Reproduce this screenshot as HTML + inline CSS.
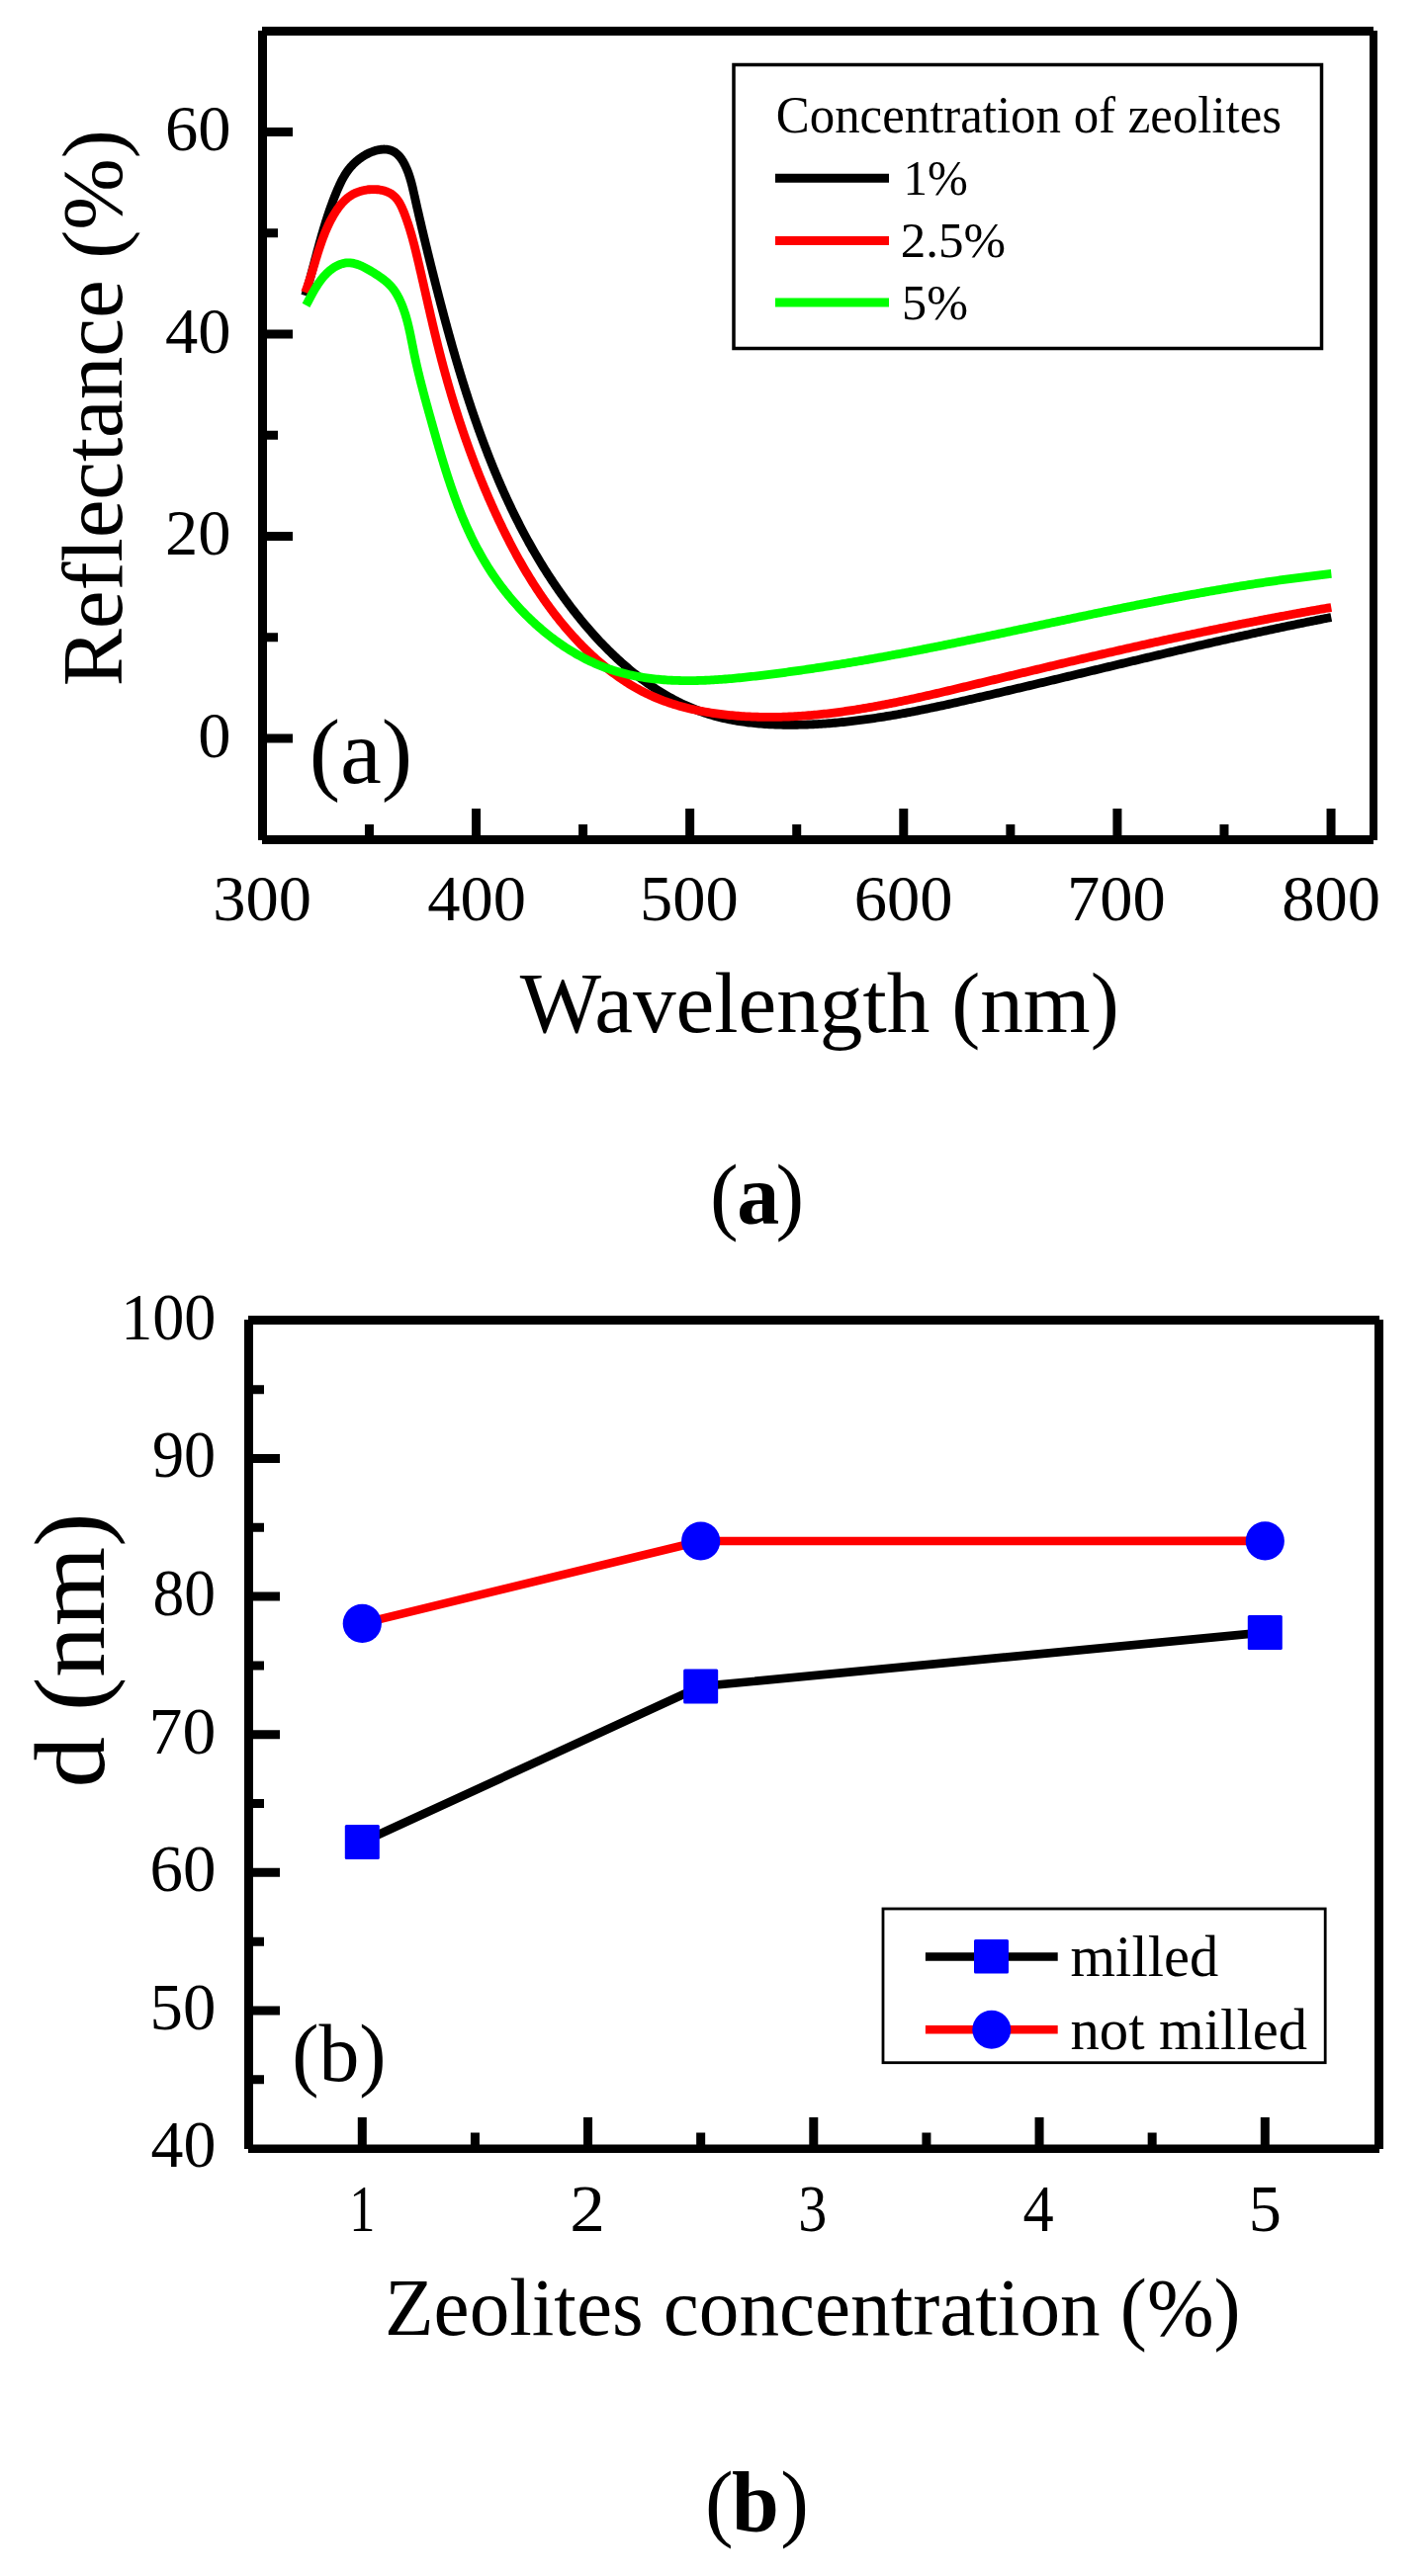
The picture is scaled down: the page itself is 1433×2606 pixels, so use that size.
<!DOCTYPE html>
<html><head><meta charset="utf-8"><style>
html,body{margin:0;padding:0;background:#fff;}
svg{display:block;}
svg text{font-family:"Liberation Serif",serif;fill:#000;}
</style></head><body>
<svg width="1433" height="2606" viewBox="0 0 1433 2606">
<rect width="1433" height="2606" fill="#fff"/>
<path d="M265,27H1389V36H265Z M261,31H270V850H261Z M1385,31H1393V850H1385Z M265,845H1389V854H265Z" fill="#000"/>
<path d="M265.5,747.00H296 M265.5,542.50H296 M265.5,338.00H296 M265.5,133.50H296 M265.5,644.75H281 M265.5,440.25H281 M265.5,235.75H281 M481.53,849.5V818 M697.66,849.5V818 M913.79,849.5V818 M1129.92,849.5V818 M1346.05,849.5V818 M373.46,849.5V834 M589.60,849.5V834 M805.73,849.5V834 M1021.86,849.5V834 M1237.99,849.5V834" stroke="#000" stroke-width="9" fill="none"/>
<text x="200.28" y="765.80" font-size="66.5">0</text>
<text x="167.03" y="561.30" font-size="66.5">20</text>
<text x="167.03" y="356.80" font-size="66.5">40</text>
<text x="167.03" y="152.30" font-size="66.5">60</text>
<text x="215.20" y="930.70" font-size="66.5">300</text>
<text x="432.27" y="930.70" font-size="66.5">400</text>
<text x="647.12" y="930.70" font-size="66.5">500</text>
<text x="863.75" y="930.70" font-size="66.5">600</text>
<text x="1079.12" y="930.70" font-size="66.5">700</text>
<text x="1296.18" y="930.70" font-size="66.5">800</text>
<text x="525.82" y="1043.70" font-size="87" textLength="605.98" lengthAdjust="spacingAndGlyphs">Wavelength (nm)</text>
<text transform="translate(122.80,694.21) rotate(-90)" x="0" y="0" font-size="86.5" textLength="563.03" lengthAdjust="spacingAndGlyphs">Reflectance (%)</text>
<path d="M308.72,298.99 L309.28,297.09 L309.83,295.19 L310.37,293.28 L310.91,291.37 L311.45,289.46 L311.98,287.54 L312.51,285.62 L313.04,283.70 L313.56,281.78 L314.08,279.85 L314.60,277.92 L315.12,275.99 L315.63,274.06 L316.14,272.13 L316.66,270.20 L317.17,268.26 L317.68,266.33 L318.20,264.39 L318.71,262.46 L319.22,260.52 L319.74,258.58 L320.26,256.65 L320.77,254.71 L321.30,252.78 L321.82,250.84 L322.35,248.91 L322.88,246.97 L323.41,245.04 L323.95,243.11 L324.49,241.18 L325.04,239.25 L325.59,237.32 L326.15,235.40 L326.71,233.48 L327.28,231.56 L327.85,229.64 L328.44,227.72 L329.03,225.81 L329.62,223.90 L330.23,222.00 L330.84,220.10 L331.46,218.20 L332.09,216.30 L332.73,214.41 L333.38,212.52 L334.04,210.64 L334.71,208.76 L335.39,206.89 L336.08,205.02 L336.78,203.16 L337.49,201.30 L338.21,199.44 L338.95,197.60 L339.70,195.75 L340.46,193.92 L341.24,192.09 L342.03,190.26 L342.84,188.44 L343.66,186.64 L344.51,184.84 L345.39,183.07 L346.31,181.31 L347.26,179.57 L348.25,177.85 L349.29,176.16 L350.39,174.50 L351.53,172.87 L352.74,171.27 L354.00,169.71 L355.32,168.19 L356.70,166.71 L358.13,165.27 L359.62,163.89 L361.15,162.55 L362.74,161.26 L364.38,160.04 L366.07,158.87 L367.80,157.76 L369.58,156.71 L371.41,155.74 L373.28,154.83 L375.19,154.00 L377.13,153.24 L379.10,152.58 L381.09,152.02 L383.08,151.58 L385.06,151.25 L387.02,151.06 L388.96,151.02 L390.85,151.14 L392.70,151.41 L394.49,151.86 L396.21,152.47 L397.87,153.24 L399.44,154.16 L400.93,155.24 L402.33,156.47 L403.65,157.83 L404.88,159.31 L406.04,160.89 L407.12,162.55 L408.14,164.28 L409.09,166.06 L409.99,167.87 L410.83,169.71 L411.63,171.57 L412.37,173.44 L413.07,175.33 L413.73,177.24 L414.36,179.16 L414.95,181.09 L415.51,183.04 L416.04,184.99 L416.55,186.96 L417.04,188.92 L417.52,190.90 L417.98,192.88 L418.43,194.86 L418.87,196.84 L419.31,198.82 L419.76,200.79 L420.20,202.77 L420.64,204.74 L421.09,206.71 L421.53,208.68 L421.98,210.65 L422.43,212.61 L422.88,214.58 L423.33,216.54 L423.78,218.50 L424.23,220.45 L424.68,222.41 L425.14,224.36 L425.59,226.32 L426.05,228.27 L426.51,230.21 L426.97,232.16 L427.43,234.11 L427.89,236.05 L428.35,238.00 L428.81,239.94 L429.28,241.88 L429.74,243.82 L430.21,245.76 L430.68,247.69 L431.15,249.63 L431.62,251.56 L432.09,253.50 L432.56,255.43 L433.03,257.37 L433.51,259.30 L433.98,261.23 L434.46,263.16 L434.94,265.09 L435.42,267.02 L435.90,268.95 L436.38,270.88 L436.86,272.81 L437.35,274.74 L437.83,276.66 L438.32,278.59 L438.80,280.52 L439.29,282.45 L439.78,284.38 L440.27,286.31 L440.76,288.23 L441.25,290.16 L441.75,292.09 L442.24,294.02 L442.74,295.95 L443.24,297.88 L443.74,299.80 L444.24,301.73 L444.74,303.66 L445.24,305.59 L445.75,307.52 L446.25,309.45 L446.76,311.38 L447.27,313.31 L447.78,315.24 L448.29,317.16 L448.81,319.09 L449.32,321.02 L449.84,322.95 L450.36,324.88 L450.88,326.80 L451.40,328.73 L451.92,330.66 L452.45,332.59 L452.98,334.51 L453.51,336.44 L454.04,338.36 L454.58,340.29 L455.11,342.22 L455.65,344.14 L456.19,346.06 L456.73,347.99 L457.28,349.91 L457.82,351.83 L458.37,353.76 L458.92,355.68 L459.48,357.60 L460.03,359.52 L460.59,361.44 L461.15,363.36 L461.72,365.28 L462.28,367.20 L462.85,369.12 L463.42,371.04 L463.99,372.95 L464.57,374.87 L465.15,376.78 L465.73,378.70 L466.31,380.61 L466.90,382.52 L467.49,384.44 L468.08,386.35 L468.67,388.26 L469.27,390.17 L469.87,392.08 L470.47,393.98 L471.08,395.89 L471.69,397.80 L472.30,399.70 L472.91,401.61 L473.53,403.51 L474.15,405.41 L474.78,407.31 L475.41,409.21 L476.04,411.11 L476.67,413.01 L477.31,414.91 L477.95,416.80 L478.59,418.70 L479.24,420.59 L479.89,422.48 L480.54,424.37 L481.20,426.26 L481.86,428.15 L482.53,430.04 L483.19,431.92 L483.87,433.81 L484.54,435.69 L485.22,437.57 L485.90,439.45 L486.59,441.33 L487.28,443.21 L487.97,445.08 L488.67,446.96 L489.37,448.83 L490.08,450.70 L490.78,452.57 L491.50,454.44 L492.21,456.31 L492.94,458.18 L493.66,460.04 L494.39,461.90 L495.12,463.76 L495.86,465.62 L496.60,467.48 L497.35,469.33 L498.10,471.19 L498.85,473.04 L499.61,474.89 L500.37,476.74 L501.14,478.58 L501.91,480.43 L502.69,482.27 L503.47,484.11 L504.25,485.95 L505.04,487.79 L505.84,489.62 L506.64,491.45 L507.44,493.28 L508.25,495.11 L509.06,496.93 L509.88,498.76 L510.70,500.58 L511.53,502.40 L512.36,504.21 L513.20,506.03 L514.04,507.84 L514.89,509.65 L515.74,511.45 L516.59,513.25 L517.46,515.06 L518.32,516.85 L519.19,518.65 L520.07,520.44 L520.95,522.23 L521.84,524.02 L522.73,525.81 L523.63,527.59 L524.54,529.37 L525.45,531.15 L526.36,532.92 L527.28,534.69 L528.20,536.46 L529.13,538.22 L530.07,539.99 L531.01,541.74 L531.96,543.50 L532.91,545.25 L533.87,547.00 L534.84,548.75 L535.81,550.49 L536.78,552.23 L537.76,553.97 L538.75,555.70 L539.74,557.43 L540.74,559.16 L541.75,560.88 L542.76,562.60 L543.78,564.32 L544.80,566.03 L545.83,567.74 L546.87,569.45 L547.91,571.15 L548.95,572.85 L550.01,574.54 L551.07,576.23 L552.14,577.92 L553.21,579.61 L554.29,581.29 L555.37,582.96 L556.46,584.64 L557.56,586.30 L558.67,587.97 L559.78,589.63 L560.90,591.29 L562.02,592.94 L563.15,594.59 L564.29,596.23 L565.44,597.87 L566.59,599.51 L567.74,601.14 L568.91,602.77 L570.08,604.40 L571.26,606.02 L572.45,607.63 L573.64,609.24 L574.84,610.85 L576.04,612.45 L577.26,614.05 L578.48,615.64 L579.70,617.23 L580.94,618.82 L582.18,620.40 L583.43,621.97 L584.69,623.54 L585.95,625.11 L587.22,626.67 L588.50,628.23 L589.78,629.78 L591.08,631.32 L592.38,632.86 L593.68,634.40 L595.00,635.93 L596.32,637.45 L597.65,638.97 L598.98,640.48 L600.33,641.98 L601.68,643.48 L603.04,644.97 L604.40,646.46 L605.78,647.93 L607.16,649.40 L608.54,650.86 L609.94,652.32 L611.34,653.77 L612.75,655.20 L614.17,656.64 L615.59,658.06 L617.03,659.47 L618.47,660.88 L619.91,662.27 L621.37,663.66 L622.83,665.04 L624.30,666.41 L625.77,667.77 L627.26,669.12 L628.75,670.46 L630.25,671.79 L631.75,673.11 L633.27,674.42 L634.79,675.71 L636.31,677.00 L637.85,678.28 L639.39,679.55 L640.94,680.80 L642.50,682.05 L644.07,683.28 L645.64,684.50 L647.22,685.71 L648.81,686.91 L650.40,688.09 L652.01,689.26 L653.62,690.43 L655.24,691.57 L656.86,692.71 L658.49,693.83 L660.13,694.94 L661.78,696.03 L663.44,697.12 L665.10,698.18 L666.77,699.24 L668.45,700.28 L670.13,701.30 L671.83,702.32 L673.53,703.31 L675.24,704.30 L676.95,705.26 L678.68,706.22 L680.41,707.16 L682.14,708.08 L683.89,708.99 L685.64,709.88 L687.40,710.75 L689.17,711.61 L690.95,712.45 L692.73,713.28 L694.53,714.09 L696.32,714.89 L698.13,715.66 L699.94,716.42 L701.77,717.17 L703.60,717.89 L705.43,718.60 L707.28,719.29 L709.13,719.96 L710.99,720.62 L712.86,721.25 L714.73,721.87 L716.62,722.47 L718.51,723.05 L720.41,723.61 L722.31,724.16 L724.22,724.68 L726.14,725.19 L728.07,725.68 L730.00,726.15 L731.94,726.60 L733.89,727.04 L735.84,727.46 L737.80,727.86 L739.76,728.25 L741.73,728.62 L743.71,728.97 L745.69,729.31 L747.67,729.63 L749.66,729.93 L751.65,730.23 L753.65,730.50 L755.65,730.77 L757.65,731.01 L759.66,731.25 L761.67,731.47 L763.69,731.67 L765.70,731.86 L767.72,732.04 L769.75,732.21 L771.77,732.36 L773.80,732.50 L775.83,732.63 L777.86,732.75 L779.89,732.85 L781.92,732.95 L783.95,733.03 L785.99,733.10 L788.02,733.16 L790.06,733.21 L792.09,733.25 L794.13,733.28 L796.16,733.29 L798.20,733.30 L800.23,733.30 L802.26,733.29 L804.29,733.27 L806.32,733.25 L808.35,733.21 L810.38,733.17 L812.40,733.12 L814.42,733.05 L816.45,732.99 L818.46,732.91 L820.48,732.83 L822.50,732.74 L824.51,732.64 L826.52,732.53 L828.53,732.42 L830.54,732.30 L832.55,732.17 L834.55,732.03 L836.56,731.89 L838.56,731.74 L840.56,731.58 L842.56,731.42 L844.55,731.25 L846.55,731.07 L848.54,730.89 L850.54,730.70 L852.53,730.50 L854.52,730.30 L856.50,730.09 L858.49,729.87 L860.48,729.65 L862.46,729.43 L864.44,729.19 L866.42,728.95 L868.40,728.71 L870.38,728.46 L872.36,728.20 L874.34,727.94 L876.31,727.67 L878.29,727.40 L880.26,727.12 L882.23,726.84 L884.20,726.55 L886.17,726.25 L888.14,725.96 L890.11,725.65 L892.07,725.34 L894.04,725.03 L896.00,724.71 L897.96,724.39 L899.93,724.07 L901.89,723.73 L903.85,723.40 L905.81,723.06 L907.77,722.72 L909.72,722.37 L911.68,722.02 L913.64,721.66 L915.59,721.30 L917.55,720.94 L919.50,720.57 L921.45,720.20 L923.41,719.82 L925.36,719.45 L927.31,719.07 L929.26,718.68 L931.21,718.29 L933.16,717.90 L935.11,717.51 L937.06,717.11 L939.01,716.71 L940.95,716.31 L942.90,715.91 L944.85,715.50 L946.79,715.09 L948.74,714.68 L950.68,714.26 L952.63,713.85 L954.57,713.43 L956.52,713.01 L958.46,712.58 L960.41,712.16 L962.35,711.73 L964.29,711.30 L966.24,710.87 L968.18,710.44 L970.12,710.01 L972.07,709.57 L974.01,709.13 L975.95,708.70 L977.89,708.26 L979.84,707.82 L981.78,707.37 L983.72,706.93 L985.66,706.49 L987.60,706.04 L989.55,705.60 L991.49,705.15 L993.43,704.71 L995.38,704.26 L997.32,703.81 L999.26,703.37 L1001.20,702.92 L1003.15,702.47 L1005.09,702.02 L1007.03,701.57 L1008.98,701.12 L1010.92,700.67 L1012.86,700.21 L1014.81,699.76 L1016.75,699.31 L1018.69,698.85 L1020.64,698.40 L1022.58,697.95 L1024.53,697.49 L1026.47,697.04 L1028.41,696.58 L1030.36,696.12 L1032.30,695.67 L1034.25,695.21 L1036.19,694.75 L1038.14,694.29 L1040.08,693.84 L1042.03,693.38 L1043.97,692.92 L1045.92,692.46 L1047.86,692.00 L1049.81,691.54 L1051.75,691.08 L1053.70,690.62 L1055.64,690.16 L1057.59,689.70 L1059.53,689.23 L1061.48,688.77 L1063.42,688.31 L1065.37,687.85 L1067.32,687.39 L1069.26,686.92 L1071.21,686.46 L1073.15,686.00 L1075.10,685.53 L1077.05,685.07 L1078.99,684.61 L1080.94,684.14 L1082.88,683.68 L1084.83,683.22 L1086.78,682.75 L1088.72,682.29 L1090.67,681.82 L1092.62,681.36 L1094.56,680.89 L1096.51,680.43 L1098.46,679.96 L1100.41,679.50 L1102.35,679.04 L1104.30,678.57 L1106.25,678.11 L1108.19,677.64 L1110.14,677.18 L1112.09,676.71 L1114.04,676.25 L1115.98,675.78 L1117.93,675.32 L1119.88,674.86 L1121.83,674.39 L1123.78,673.93 L1125.72,673.46 L1127.67,673.00 L1129.62,672.54 L1131.57,672.07 L1133.52,671.61 L1135.47,671.15 L1137.41,670.68 L1139.36,670.22 L1141.31,669.76 L1143.26,669.29 L1145.21,668.83 L1147.16,668.37 L1149.11,667.91 L1151.06,667.45 L1153.01,666.99 L1154.95,666.52 L1156.90,666.06 L1158.85,665.60 L1160.80,665.14 L1162.75,664.68 L1164.70,664.22 L1166.65,663.77 L1168.60,663.31 L1170.55,662.85 L1172.50,662.39 L1174.45,661.93 L1176.40,661.48 L1178.35,661.02 L1180.30,660.56 L1182.25,660.11 L1184.20,659.65 L1186.15,659.20 L1188.10,658.74 L1190.05,658.29 L1192.00,657.83 L1193.95,657.38 L1195.90,656.93 L1197.85,656.48 L1199.80,656.03 L1201.76,655.57 L1203.71,655.12 L1205.66,654.67 L1207.61,654.23 L1209.56,653.78 L1211.51,653.33 L1213.46,652.88 L1215.41,652.43 L1217.36,651.99 L1219.32,651.54 L1221.27,651.10 L1223.22,650.65 L1225.17,650.21 L1227.12,649.77 L1229.07,649.33 L1231.03,648.88 L1232.98,648.44 L1234.93,648.00 L1236.88,647.56 L1238.83,647.13 L1240.79,646.69 L1242.74,646.25 L1244.69,645.82 L1246.64,645.38 L1248.60,644.95 L1250.55,644.51 L1252.50,644.08 L1254.45,643.65 L1256.41,643.22 L1258.36,642.79 L1260.31,642.36 L1262.26,641.93 L1264.22,641.50 L1266.17,641.07 L1268.12,640.65 L1270.08,640.22 L1272.03,639.80 L1273.98,639.38 L1275.94,638.96 L1277.89,638.53 L1279.84,638.11 L1281.80,637.70 L1283.75,637.28 L1285.70,636.86 L1287.66,636.45 L1289.61,636.03 L1291.57,635.62 L1293.52,635.20 L1295.47,634.79 L1297.43,634.38 L1299.38,633.97 L1301.34,633.56 L1303.29,633.16 L1305.24,632.75 L1307.20,632.35 L1309.15,631.94 L1311.11,631.54 L1313.06,631.14 L1315.02,630.74 L1316.97,630.34 L1318.92,629.94 L1320.88,629.55 L1322.83,629.15 L1324.79,628.76 L1326.74,628.36 L1328.70,627.97 L1330.65,627.58 L1332.61,627.19 L1334.56,626.81 L1336.52,626.42 L1338.47,626.03 L1340.43,625.65 L1342.38,625.27 L1344.34,624.89 L1346.30,624.51" stroke="#000" stroke-width="8.8" fill="none" stroke-linejoin="round"/>
<path d="M308.61,295.87 L309.30,294.05 L309.97,292.22 L310.63,290.38 L311.27,288.53 L311.90,286.67 L312.53,284.79 L313.14,282.91 L313.75,281.02 L314.35,279.12 L314.94,277.22 L315.53,275.31 L316.11,273.39 L316.69,271.47 L317.27,269.55 L317.85,267.62 L318.44,265.69 L319.02,263.76 L319.60,261.83 L320.20,259.90 L320.79,257.97 L321.39,256.04 L322.00,254.11 L322.62,252.19 L323.25,250.28 L323.89,248.36 L324.54,246.46 L325.20,244.55 L325.88,242.66 L326.58,240.78 L327.29,238.90 L328.02,237.03 L328.76,235.18 L329.53,233.33 L330.32,231.50 L331.13,229.68 L331.96,227.87 L332.82,226.08 L333.70,224.30 L334.61,222.54 L335.55,220.80 L336.51,219.07 L337.51,217.36 L338.54,215.67 L339.60,214.00 L340.69,212.36 L341.82,210.74 L342.99,209.15 L344.20,207.59 L345.46,206.08 L346.77,204.62 L348.13,203.21 L349.54,201.86 L351.02,200.58 L352.56,199.37 L354.16,198.23 L355.84,197.18 L357.58,196.21 L359.40,195.33 L361.28,194.54 L363.21,193.84 L365.19,193.24 L367.21,192.73 L369.25,192.31 L371.32,191.98 L373.40,191.74 L375.48,191.60 L377.56,191.56 L379.62,191.60 L381.66,191.74 L383.68,191.98 L385.65,192.32 L387.58,192.76 L389.46,193.31 L391.28,193.96 L393.02,194.73 L394.69,195.61 L396.28,196.60 L397.78,197.72 L399.17,198.96 L400.46,200.32 L401.67,201.78 L402.79,203.34 L403.83,204.98 L404.80,206.70 L405.72,208.47 L406.58,210.29 L407.39,212.16 L408.17,214.04 L408.92,215.95 L409.65,217.85 L410.36,219.76 L411.05,221.67 L411.72,223.59 L412.37,225.50 L413.01,227.42 L413.63,229.34 L414.23,231.27 L414.82,233.19 L415.40,235.12 L415.96,237.05 L416.51,238.98 L417.05,240.91 L417.58,242.84 L418.10,244.78 L418.61,246.71 L419.11,248.65 L419.60,250.59 L420.08,252.53 L420.56,254.47 L421.03,256.41 L421.50,258.35 L421.96,260.29 L422.42,262.24 L422.88,264.18 L423.33,266.12 L423.79,268.07 L424.24,270.02 L424.69,271.96 L425.14,273.91 L425.59,275.85 L426.04,277.80 L426.48,279.75 L426.93,281.69 L427.38,283.64 L427.82,285.59 L428.27,287.54 L428.71,289.48 L429.15,291.43 L429.60,293.38 L430.04,295.33 L430.48,297.28 L430.93,299.22 L431.37,301.17 L431.82,303.12 L432.26,305.07 L432.71,307.02 L433.15,308.96 L433.60,310.91 L434.05,312.86 L434.50,314.81 L434.95,316.75 L435.40,318.70 L435.85,320.64 L436.30,322.59 L436.76,324.54 L437.21,326.48 L437.67,328.43 L438.13,330.37 L438.59,332.31 L439.06,334.26 L439.52,336.20 L439.99,338.14 L440.46,340.09 L440.93,342.03 L441.41,343.97 L441.89,345.91 L442.37,347.85 L442.85,349.79 L443.34,351.72 L443.83,353.66 L444.32,355.60 L444.81,357.53 L445.31,359.47 L445.81,361.40 L446.32,363.33 L446.83,365.27 L447.34,367.20 L447.85,369.13 L448.37,371.06 L448.89,372.99 L449.42,374.92 L449.95,376.84 L450.48,378.77 L451.01,380.69 L451.55,382.62 L452.10,384.54 L452.64,386.46 L453.19,388.38 L453.74,390.30 L454.30,392.22 L454.86,394.14 L455.42,396.06 L455.99,397.97 L456.56,399.89 L457.13,401.80 L457.71,403.71 L458.29,405.63 L458.88,407.54 L459.47,409.45 L460.06,411.35 L460.65,413.26 L461.25,415.17 L461.86,417.07 L462.47,418.97 L463.08,420.88 L463.69,422.78 L464.31,424.68 L464.93,426.57 L465.56,428.47 L466.19,430.37 L466.82,432.26 L467.46,434.15 L468.10,436.05 L468.75,437.94 L469.40,439.82 L470.05,441.71 L470.71,443.60 L471.37,445.48 L472.04,447.37 L472.71,449.25 L473.38,451.13 L474.06,453.01 L474.74,454.89 L475.43,456.76 L476.12,458.64 L476.81,460.51 L477.51,462.38 L478.21,464.25 L478.92,466.12 L479.63,467.99 L480.35,469.85 L481.07,471.72 L481.79,473.58 L482.52,475.44 L483.25,477.30 L483.99,479.16 L484.73,481.01 L485.47,482.87 L486.22,484.72 L486.98,486.57 L487.73,488.42 L488.50,490.27 L489.26,492.11 L490.04,493.96 L490.81,495.80 L491.59,497.64 L492.38,499.48 L493.17,501.32 L493.96,503.15 L494.76,504.98 L495.56,506.82 L496.37,508.65 L497.18,510.47 L498.00,512.30 L498.82,514.12 L499.65,515.95 L500.48,517.77 L501.31,519.58 L502.15,521.40 L503.00,523.22 L503.85,525.03 L504.70,526.84 L505.56,528.65 L506.43,530.45 L507.30,532.26 L508.17,534.06 L509.05,535.86 L509.93,537.66 L510.82,539.45 L511.72,541.24 L512.62,543.03 L513.52,544.82 L514.43,546.60 L515.35,548.39 L516.27,550.16 L517.20,551.94 L518.13,553.71 L519.07,555.48 L520.01,557.25 L520.96,559.01 L521.92,560.77 L522.88,562.52 L523.85,564.27 L524.82,566.02 L525.80,567.77 L526.79,569.51 L527.78,571.24 L528.78,572.97 L529.79,574.70 L530.80,576.43 L531.82,578.15 L532.85,579.86 L533.88,581.58 L534.92,583.28 L535.96,584.98 L537.02,586.68 L538.07,588.38 L539.14,590.06 L540.22,591.75 L541.30,593.43 L542.38,595.10 L543.48,596.77 L544.58,598.43 L545.69,600.09 L546.81,601.74 L547.93,603.39 L549.07,605.03 L550.21,606.67 L551.35,608.30 L552.51,609.93 L553.67,611.55 L554.84,613.16 L556.02,614.77 L557.21,616.37 L558.41,617.96 L559.61,619.55 L560.82,621.14 L562.04,622.71 L563.27,624.28 L564.51,625.85 L565.75,627.41 L567.00,628.96 L568.27,630.50 L569.54,632.04 L570.82,633.57 L572.10,635.09 L573.40,636.61 L574.71,638.12 L576.02,639.62 L577.35,641.12 L578.68,642.60 L580.02,644.08 L581.37,645.56 L582.73,647.02 L584.10,648.48 L585.48,649.93 L586.87,651.37 L588.27,652.80 L589.68,654.23 L591.09,655.65 L592.52,657.06 L593.96,658.46 L595.40,659.85 L596.86,661.23 L598.32,662.60 L599.79,663.96 L601.28,665.31 L602.77,666.65 L604.27,667.98 L605.79,669.30 L607.31,670.61 L608.84,671.91 L610.38,673.19 L611.93,674.46 L613.48,675.72 L615.05,676.97 L616.63,678.20 L618.22,679.42 L619.81,680.63 L621.42,681.82 L623.03,683.00 L624.66,684.17 L626.29,685.32 L627.93,686.46 L629.58,687.58 L631.24,688.68 L632.91,689.77 L634.59,690.84 L636.28,691.90 L637.98,692.94 L639.69,693.97 L641.40,694.98 L643.13,695.97 L644.86,696.94 L646.61,697.89 L648.36,698.83 L650.12,699.75 L651.89,700.65 L653.67,701.53 L655.46,702.39 L657.26,703.24 L659.07,704.06 L660.88,704.86 L662.71,705.65 L664.54,706.41 L666.38,707.16 L668.23,707.89 L670.09,708.60 L671.95,709.29 L673.83,709.96 L675.71,710.62 L677.59,711.26 L679.48,711.88 L681.38,712.49 L683.29,713.07 L685.20,713.65 L687.12,714.20 L689.04,714.74 L690.97,715.26 L692.90,715.77 L694.84,716.26 L696.78,716.74 L698.73,717.20 L700.68,717.64 L702.64,718.07 L704.60,718.49 L706.56,718.89 L708.53,719.28 L710.50,719.65 L712.47,720.01 L714.45,720.36 L716.43,720.69 L718.41,721.01 L720.39,721.32 L722.38,721.61 L724.37,721.90 L726.35,722.17 L728.34,722.42 L730.33,722.67 L732.33,722.91 L734.32,723.13 L736.31,723.34 L738.30,723.54 L740.30,723.73 L742.29,723.91 L744.28,724.08 L746.27,724.24 L748.26,724.39 L750.25,724.53 L752.24,724.65 L754.24,724.77 L756.23,724.88 L758.22,724.98 L760.21,725.07 L762.19,725.15 L764.18,725.21 L766.17,725.27 L768.16,725.32 L770.15,725.37 L772.14,725.40 L774.12,725.42 L776.11,725.43 L778.10,725.44 L780.09,725.43 L782.07,725.42 L784.06,725.40 L786.04,725.37 L788.03,725.33 L790.01,725.28 L792.00,725.22 L793.98,725.16 L795.97,725.08 L797.95,725.00 L799.94,724.91 L801.92,724.82 L803.90,724.71 L805.88,724.60 L807.87,724.48 L809.85,724.35 L811.83,724.21 L813.81,724.07 L815.79,723.92 L817.77,723.76 L819.75,723.60 L821.73,723.42 L823.71,723.24 L825.69,723.06 L827.67,722.86 L829.65,722.66 L831.63,722.46 L833.61,722.24 L835.59,722.02 L837.56,721.80 L839.54,721.56 L841.52,721.32 L843.50,721.08 L845.47,720.83 L847.45,720.57 L849.42,720.30 L851.40,720.03 L853.38,719.76 L855.35,719.48 L857.32,719.19 L859.30,718.90 L861.27,718.60 L863.25,718.30 L865.22,717.99 L867.19,717.68 L869.17,717.36 L871.14,717.03 L873.11,716.71 L875.08,716.37 L877.05,716.03 L879.02,715.69 L881.00,715.34 L882.97,714.99 L884.94,714.63 L886.91,714.27 L888.88,713.91 L890.84,713.54 L892.81,713.16 L894.78,712.79 L896.75,712.41 L898.72,712.02 L900.69,711.63 L902.65,711.24 L904.62,710.84 L906.59,710.44 L908.55,710.04 L910.52,709.63 L912.49,709.22 L914.45,708.81 L916.42,708.39 L918.38,707.98 L920.35,707.55 L922.31,707.13 L924.27,706.70 L926.24,706.27 L928.20,705.84 L930.16,705.40 L932.13,704.97 L934.09,704.53 L936.05,704.08 L938.01,703.64 L939.97,703.19 L941.93,702.74 L943.89,702.29 L945.85,701.84 L947.81,701.39 L949.77,700.93 L951.73,700.48 L953.69,700.02 L955.65,699.56 L957.61,699.10 L959.57,698.63 L961.52,698.17 L963.48,697.71 L965.44,697.24 L967.40,696.77 L969.35,696.31 L971.31,695.84 L973.26,695.37 L975.22,694.90 L977.17,694.43 L979.13,693.96 L981.08,693.49 L983.04,693.02 L984.99,692.55 L986.95,692.08 L988.90,691.61 L990.85,691.14 L992.80,690.67 L994.76,690.20 L996.71,689.73 L998.66,689.26 L1000.61,688.79 L1002.56,688.32 L1004.51,687.85 L1006.46,687.38 L1008.41,686.91 L1010.36,686.45 L1012.31,685.98 L1014.26,685.51 L1016.21,685.04 L1018.16,684.57 L1020.11,684.11 L1022.06,683.64 L1024.00,683.17 L1025.95,682.71 L1027.90,682.24 L1029.85,681.77 L1031.79,681.31 L1033.74,680.84 L1035.69,680.38 L1037.63,679.91 L1039.58,679.45 L1041.53,678.99 L1043.47,678.52 L1045.42,678.06 L1047.36,677.60 L1049.31,677.13 L1051.25,676.67 L1053.20,676.21 L1055.14,675.75 L1057.09,675.29 L1059.03,674.83 L1060.98,674.36 L1062.92,673.90 L1064.87,673.45 L1066.81,672.99 L1068.76,672.53 L1070.70,672.07 L1072.64,671.61 L1074.59,671.15 L1076.53,670.70 L1078.47,670.24 L1080.42,669.78 L1082.36,669.33 L1084.30,668.87 L1086.25,668.42 L1088.19,667.96 L1090.13,667.51 L1092.08,667.05 L1094.02,666.60 L1095.96,666.15 L1097.91,665.70 L1099.85,665.24 L1101.79,664.79 L1103.74,664.34 L1105.68,663.89 L1107.62,663.44 L1109.56,662.99 L1111.51,662.55 L1113.45,662.10 L1115.39,661.65 L1117.34,661.20 L1119.28,660.76 L1121.22,660.31 L1123.17,659.87 L1125.11,659.42 L1127.05,658.98 L1128.99,658.54 L1130.94,658.09 L1132.88,657.65 L1134.83,657.21 L1136.77,656.77 L1138.71,656.33 L1140.66,655.89 L1142.60,655.45 L1144.54,655.01 L1146.49,654.57 L1148.43,654.14 L1150.38,653.70 L1152.32,653.27 L1154.26,652.83 L1156.21,652.40 L1158.15,651.96 L1160.10,651.53 L1162.04,651.10 L1163.99,650.67 L1165.93,650.24 L1167.88,649.81 L1169.83,649.38 L1171.77,648.95 L1173.72,648.52 L1175.66,648.09 L1177.61,647.67 L1179.56,647.24 L1181.50,646.82 L1183.45,646.39 L1185.40,645.97 L1187.35,645.55 L1189.29,645.12 L1191.24,644.70 L1193.19,644.28 L1195.14,643.86 L1197.09,643.45 L1199.03,643.03 L1200.98,642.61 L1202.93,642.19 L1204.88,641.78 L1206.83,641.37 L1208.78,640.95 L1210.73,640.54 L1212.68,640.13 L1214.64,639.72 L1216.59,639.31 L1218.54,638.90 L1220.49,638.49 L1222.44,638.08 L1224.39,637.67 L1226.35,637.27 L1228.30,636.86 L1230.25,636.46 L1232.21,636.06 L1234.16,635.66 L1236.12,635.26 L1238.07,634.86 L1240.03,634.46 L1241.98,634.06 L1243.94,633.66 L1245.90,633.26 L1247.85,632.87 L1249.81,632.48 L1251.77,632.08 L1253.73,631.69 L1255.68,631.30 L1257.64,630.91 L1259.60,630.52 L1261.56,630.13 L1263.52,629.74 L1265.48,629.36 L1267.44,628.97 L1269.41,628.59 L1271.37,628.20 L1273.33,627.82 L1275.29,627.44 L1277.26,627.06 L1279.22,626.68 L1281.18,626.31 L1283.15,625.93 L1285.11,625.55 L1287.08,625.18 L1289.05,624.80 L1291.01,624.43 L1292.98,624.06 L1294.95,623.69 L1296.92,623.32 L1298.88,622.95 L1300.85,622.59 L1302.82,622.22 L1304.79,621.86 L1306.76,621.49 L1308.74,621.13 L1310.71,620.77 L1312.68,620.41 L1314.65,620.05 L1316.63,619.70 L1318.60,619.34 L1320.58,618.99 L1322.55,618.63 L1324.53,618.28 L1326.51,617.93 L1328.48,617.58 L1330.46,617.23 L1332.44,616.88 L1334.42,616.53 L1336.40,616.19 L1338.38,615.85 L1340.36,615.50 L1342.34,615.16 L1344.32,614.82 L1346.31,614.48" stroke="#f00" stroke-width="8.8" fill="none" stroke-linejoin="round"/>
<path d="M309.48,308.91 L310.36,307.25 L311.25,305.57 L312.15,303.86 L313.07,302.12 L314.00,300.38 L314.94,298.62 L315.91,296.85 L316.90,295.09 L317.91,293.33 L318.96,291.57 L320.03,289.83 L321.13,288.11 L322.27,286.41 L323.45,284.74 L324.66,283.10 L325.92,281.49 L327.23,279.93 L328.58,278.42 L329.98,276.95 L331.43,275.55 L332.94,274.20 L334.50,272.92 L336.11,271.72 L337.77,270.60 L339.47,269.58 L341.21,268.66 L342.98,267.85 L344.79,267.16 L346.61,266.61 L348.46,266.20 L350.32,265.94 L352.19,265.83 L354.07,265.89 L355.96,266.10 L357.84,266.45 L359.73,266.93 L361.62,267.52 L363.50,268.22 L365.37,269.01 L367.24,269.88 L369.09,270.81 L370.94,271.80 L372.76,272.83 L374.57,273.90 L376.36,274.98 L378.13,276.07 L379.87,277.17 L381.59,278.27 L383.27,279.39 L384.92,280.52 L386.54,281.68 L388.11,282.87 L389.64,284.09 L391.12,285.35 L392.56,286.66 L393.94,288.02 L395.26,289.43 L396.53,290.90 L397.73,292.43 L398.88,294.01 L399.98,295.65 L401.02,297.33 L402.01,299.06 L402.96,300.81 L403.86,302.60 L404.71,304.41 L405.53,306.25 L406.31,308.09 L407.05,309.95 L407.76,311.82 L408.44,313.70 L409.08,315.59 L409.70,317.49 L410.29,319.40 L410.85,321.32 L411.40,323.24 L411.91,325.18 L412.41,327.12 L412.89,329.06 L413.35,331.02 L413.80,332.97 L414.24,334.93 L414.66,336.90 L415.07,338.87 L415.48,340.84 L415.87,342.81 L416.27,344.78 L416.65,346.76 L417.04,348.73 L417.43,350.71 L417.82,352.68 L418.21,354.66 L418.61,356.63 L419.02,358.59 L419.43,360.56 L419.85,362.52 L420.28,364.48 L420.71,366.44 L421.15,368.39 L421.59,370.35 L422.05,372.30 L422.50,374.25 L422.96,376.19 L423.43,378.14 L423.90,380.08 L424.38,382.02 L424.86,383.96 L425.35,385.90 L425.84,387.84 L426.34,389.77 L426.84,391.70 L427.34,393.64 L427.85,395.57 L428.36,397.50 L428.87,399.42 L429.38,401.35 L429.90,403.28 L430.43,405.20 L430.95,407.13 L431.48,409.05 L432.01,410.97 L432.54,412.90 L433.07,414.82 L433.60,416.74 L434.14,418.66 L434.68,420.58 L435.21,422.50 L435.75,424.42 L436.29,426.34 L436.83,428.26 L437.37,430.19 L437.91,432.11 L438.45,434.03 L438.99,435.95 L439.54,437.87 L440.08,439.79 L440.63,441.71 L441.17,443.63 L441.72,445.54 L442.27,447.46 L442.82,449.38 L443.38,451.30 L443.93,453.21 L444.49,455.13 L445.05,457.04 L445.62,458.95 L446.18,460.87 L446.75,462.78 L447.33,464.69 L447.90,466.59 L448.48,468.50 L449.07,470.41 L449.66,472.31 L450.25,474.21 L450.84,476.11 L451.44,478.01 L452.05,479.91 L452.66,481.80 L453.27,483.70 L453.89,485.59 L454.52,487.48 L455.15,489.36 L455.79,491.25 L456.43,493.13 L457.07,495.01 L457.73,496.89 L458.39,498.76 L459.05,500.63 L459.73,502.50 L460.40,504.37 L461.09,506.23 L461.78,508.09 L462.48,509.95 L463.19,511.80 L463.91,513.66 L464.63,515.50 L465.36,517.35 L466.10,519.19 L466.84,521.03 L467.60,522.86 L468.36,524.69 L469.13,526.52 L469.91,528.35 L470.70,530.16 L471.50,531.98 L472.31,533.79 L473.13,535.60 L473.95,537.40 L474.79,539.20 L475.64,541.00 L476.49,542.79 L477.36,544.58 L478.24,546.36 L479.12,548.14 L480.02,549.91 L480.93,551.68 L481.85,553.44 L482.78,555.20 L483.73,556.96 L484.68,558.70 L485.65,560.45 L486.63,562.19 L487.62,563.92 L488.62,565.65 L489.64,567.37 L490.66,569.09 L491.70,570.80 L492.76,572.51 L493.82,574.21 L494.90,575.90 L495.99,577.59 L497.10,579.28 L498.22,580.95 L499.35,582.63 L500.50,584.29 L501.65,585.95 L502.83,587.60 L504.01,589.24 L505.20,590.88 L506.41,592.51 L507.63,594.13 L508.87,595.74 L510.11,597.35 L511.37,598.95 L512.64,600.53 L513.92,602.12 L515.22,603.69 L516.52,605.25 L517.84,606.80 L519.17,608.35 L520.50,609.88 L521.86,611.41 L523.22,612.92 L524.59,614.43 L525.98,615.92 L527.37,617.41 L528.78,618.88 L530.19,620.34 L531.62,621.80 L533.06,623.24 L534.51,624.67 L535.96,626.08 L537.43,627.49 L538.91,628.88 L540.40,630.27 L541.90,631.64 L543.41,632.99 L544.93,634.34 L546.46,635.67 L547.99,636.99 L549.54,638.29 L551.10,639.59 L552.66,640.86 L554.24,642.13 L555.82,643.38 L557.41,644.61 L559.01,645.84 L560.62,647.04 L562.24,648.24 L563.87,649.41 L565.51,650.58 L567.15,651.72 L568.80,652.86 L570.46,653.97 L572.13,655.07 L573.81,656.16 L575.49,657.22 L577.19,658.28 L578.89,659.31 L580.59,660.33 L582.31,661.33 L584.03,662.31 L585.76,663.28 L587.50,664.23 L589.24,665.16 L590.99,666.07 L592.75,666.97 L594.51,667.85 L596.28,668.70 L598.06,669.54 L599.85,670.36 L601.64,671.17 L603.43,671.95 L605.23,672.71 L607.04,673.46 L608.86,674.18 L610.68,674.88 L612.51,675.57 L614.34,676.23 L616.18,676.87 L618.02,677.50 L619.87,678.10 L621.72,678.68 L623.58,679.25 L625.44,679.79 L627.31,680.32 L629.19,680.83 L631.07,681.32 L632.95,681.79 L634.84,682.24 L636.74,682.68 L638.63,683.10 L640.54,683.50 L642.44,683.88 L644.35,684.25 L646.27,684.60 L648.19,684.93 L650.11,685.25 L652.04,685.55 L653.97,685.84 L655.91,686.11 L657.85,686.37 L659.79,686.61 L661.74,686.83 L663.69,687.04 L665.64,687.24 L667.60,687.42 L669.56,687.59 L671.52,687.75 L673.49,687.89 L675.46,688.02 L677.43,688.13 L679.41,688.24 L681.39,688.33 L683.37,688.40 L685.35,688.47 L687.34,688.52 L689.33,688.57 L691.32,688.60 L693.31,688.62 L695.30,688.63 L697.30,688.63 L699.30,688.61 L701.30,688.59 L703.30,688.56 L705.31,688.52 L707.32,688.46 L709.32,688.40 L711.33,688.33 L713.34,688.25 L715.36,688.16 L717.37,688.07 L719.38,687.96 L721.40,687.85 L723.42,687.73 L725.43,687.60 L727.45,687.46 L729.47,687.32 L731.49,687.17 L733.51,687.01 L735.53,686.85 L737.55,686.68 L739.58,686.51 L741.60,686.33 L743.62,686.14 L745.64,685.95 L747.67,685.75 L749.69,685.55 L751.71,685.34 L753.73,685.13 L755.75,684.92 L757.77,684.70 L759.79,684.47 L761.81,684.25 L763.83,684.02 L765.85,683.79 L767.87,683.55 L769.89,683.31 L771.90,683.07 L773.92,682.83 L775.93,682.58 L777.95,682.34 L779.96,682.09 L781.97,681.83 L783.98,681.58 L785.99,681.32 L788.00,681.06 L790.00,680.80 L792.01,680.54 L794.02,680.27 L796.02,680.00 L798.02,679.73 L800.03,679.46 L802.03,679.18 L804.03,678.90 L806.03,678.63 L808.03,678.34 L810.03,678.06 L812.03,677.77 L814.02,677.49 L816.02,677.20 L818.02,676.91 L820.01,676.61 L822.00,676.32 L824.00,676.02 L825.99,675.72 L827.98,675.42 L829.97,675.11 L831.96,674.81 L833.95,674.50 L835.94,674.19 L837.92,673.88 L839.91,673.57 L841.90,673.25 L843.88,672.93 L845.87,672.61 L847.85,672.29 L849.83,671.97 L851.82,671.65 L853.80,671.32 L855.78,671.00 L857.76,670.67 L859.74,670.34 L861.72,670.00 L863.69,669.67 L865.67,669.33 L867.65,669.00 L869.63,668.66 L871.60,668.32 L873.58,667.97 L875.55,667.63 L877.52,667.29 L879.50,666.94 L881.47,666.59 L883.44,666.24 L885.41,665.89 L887.38,665.54 L889.35,665.18 L891.32,664.83 L893.29,664.47 L895.26,664.11 L897.23,663.75 L899.19,663.39 L901.16,663.03 L903.13,662.67 L905.09,662.30 L907.06,661.94 L909.02,661.57 L910.99,661.20 L912.95,660.83 L914.91,660.46 L916.87,660.09 L918.84,659.72 L920.80,659.34 L922.76,658.97 L924.72,658.59 L926.68,658.21 L928.64,657.83 L930.60,657.45 L932.56,657.07 L934.51,656.69 L936.47,656.31 L938.43,655.92 L940.39,655.54 L942.34,655.15 L944.30,654.77 L946.26,654.38 L948.21,653.99 L950.17,653.60 L952.12,653.21 L954.07,652.82 L956.03,652.43 L957.98,652.03 L959.94,651.64 L961.89,651.25 L963.84,650.85 L965.79,650.46 L967.74,650.06 L969.70,649.66 L971.65,649.26 L973.60,648.86 L975.55,648.46 L977.50,648.06 L979.45,647.66 L981.40,647.26 L983.35,646.86 L985.30,646.46 L987.25,646.05 L989.20,645.65 L991.14,645.25 L993.09,644.84 L995.04,644.44 L996.99,644.03 L998.94,643.62 L1000.88,643.22 L1002.83,642.81 L1004.78,642.40 L1006.72,641.99 L1008.67,641.59 L1010.62,641.18 L1012.56,640.77 L1014.51,640.36 L1016.45,639.95 L1018.40,639.54 L1020.35,639.13 L1022.29,638.72 L1024.24,638.31 L1026.18,637.90 L1028.13,637.49 L1030.07,637.07 L1032.02,636.66 L1033.96,636.25 L1035.91,635.84 L1037.85,635.43 L1039.79,635.01 L1041.74,634.60 L1043.68,634.19 L1045.63,633.78 L1047.57,633.37 L1049.52,632.95 L1051.46,632.54 L1053.40,632.13 L1055.35,631.72 L1057.29,631.30 L1059.24,630.89 L1061.18,630.48 L1063.12,630.07 L1065.07,629.66 L1067.01,629.24 L1068.96,628.83 L1070.90,628.42 L1072.84,628.01 L1074.79,627.60 L1076.73,627.19 L1078.68,626.78 L1080.62,626.37 L1082.56,625.96 L1084.51,625.55 L1086.45,625.14 L1088.40,624.73 L1090.34,624.32 L1092.29,623.91 L1094.23,623.50 L1096.18,623.10 L1098.12,622.69 L1100.07,622.28 L1102.01,621.87 L1103.96,621.47 L1105.90,621.06 L1107.85,620.66 L1109.79,620.25 L1111.74,619.85 L1113.69,619.45 L1115.63,619.04 L1117.58,618.64 L1119.53,618.24 L1121.47,617.84 L1123.42,617.44 L1125.37,617.04 L1127.31,616.64 L1129.26,616.24 L1131.21,615.84 L1133.16,615.45 L1135.11,615.05 L1137.06,614.65 L1139.00,614.26 L1140.95,613.87 L1142.90,613.47 L1144.85,613.08 L1146.80,612.69 L1148.75,612.30 L1150.70,611.91 L1152.66,611.52 L1154.61,611.13 L1156.56,610.75 L1158.51,610.36 L1160.46,609.97 L1162.41,609.59 L1164.37,609.21 L1166.32,608.82 L1168.27,608.44 L1170.23,608.06 L1172.18,607.68 L1174.14,607.31 L1176.09,606.93 L1178.05,606.55 L1180.00,606.18 L1181.96,605.81 L1183.92,605.43 L1185.87,605.06 L1187.83,604.69 L1189.79,604.32 L1191.75,603.96 L1193.70,603.59 L1195.66,603.22 L1197.62,602.86 L1199.58,602.50 L1201.54,602.14 L1203.50,601.78 L1205.47,601.42 L1207.43,601.06 L1209.39,600.71 L1211.35,600.35 L1213.32,600.00 L1215.28,599.65 L1217.25,599.30 L1219.21,598.95 L1221.18,598.60 L1223.14,598.26 L1225.11,597.91 L1227.08,597.57 L1229.04,597.23 L1231.01,596.89 L1232.98,596.55 L1234.95,596.22 L1236.92,595.88 L1238.89,595.55 L1240.86,595.22 L1242.83,594.89 L1244.81,594.56 L1246.78,594.23 L1248.75,593.91 L1250.73,593.59 L1252.70,593.27 L1254.68,592.95 L1256.65,592.63 L1258.63,592.31 L1260.61,592.00 L1262.59,591.69 L1264.56,591.38 L1266.54,591.07 L1268.52,590.76 L1270.50,590.46 L1272.49,590.16 L1274.47,589.86 L1276.45,589.56 L1278.44,589.26 L1280.42,588.97 L1282.40,588.68 L1284.39,588.38 L1286.38,588.10 L1288.36,587.81 L1290.35,587.53 L1292.34,587.24 L1294.33,586.96 L1296.32,586.69 L1298.31,586.41 L1300.31,586.14 L1302.30,585.87 L1304.29,585.60 L1306.29,585.33 L1308.28,585.07 L1310.28,584.80 L1312.27,584.54 L1314.27,584.28 L1316.27,584.03 L1318.27,583.78 L1320.27,583.53 L1322.27,583.28 L1324.27,583.03 L1326.28,582.79 L1328.28,582.55 L1330.29,582.31 L1332.29,582.07 L1334.30,581.84 L1336.31,581.61 L1338.31,581.38 L1340.32,581.15 L1342.33,580.93 L1344.34,580.70 L1346.36,580.49" stroke="#0f0" stroke-width="8.8" fill="none" stroke-linejoin="round"/>
<rect x="742" y="65.5" width="594.5" height="287" fill="#fff" stroke="#000" stroke-width="3.5"/>
<text x="784.81" y="134.00" font-size="53" textLength="511.32" lengthAdjust="spacingAndGlyphs">Concentration of zeolites</text>
<path d="M784,180.3H899" stroke="#000" stroke-width="9"/>
<text x="913.49" y="196.80" font-size="51.5" textLength="65.39" lengthAdjust="spacingAndGlyphs">1%</text>
<path d="M784,243.4H899" stroke="#f00" stroke-width="9"/>
<text x="910.66" y="260.00" font-size="51.5" textLength="106.29" lengthAdjust="spacingAndGlyphs">2.5%</text>
<path d="M784,306H899" stroke="#0f0" stroke-width="9"/>
<text x="912.09" y="322.70" font-size="51.5" textLength="66.83" lengthAdjust="spacingAndGlyphs">5%</text>
<text x="312.66" y="792.00" font-size="93.6" textLength="104.47" lengthAdjust="spacingAndGlyphs">(a)</text>
<text x="718.12" y="1238" font-size="86">(</text>
<text x="745.23" y="1238" font-size="86" font-weight="bold">a</text>
<text x="784.45" y="1238" font-size="86">)</text>
<path d="M251,1331H1395V1340H251Z M247,1335H256V2174H247Z M1390,1335H1399V2174H1390Z M251,2169.5H1395V2178H251Z" fill="#000"/>
<path d="M251.6,2033.98H283 M251.6,1894.36H283 M251.6,1754.74H283 M251.6,1615.12H283 M251.6,1475.50H283 M251.6,2103.79H267 M251.6,1964.17H267 M251.6,1824.55H267 M251.6,1684.93H267 M251.6,1545.31H267 M251.6,1405.69H267 M366.30,2173.6V2142 M594.55,2173.6V2142 M822.80,2173.6V2142 M1051.05,2173.6V2142 M1279.30,2173.6V2142 M480.43,2173.6V2157.5 M708.67,2173.6V2157.5 M936.92,2173.6V2157.5 M1165.17,2173.6V2157.5" stroke="#000" stroke-width="9" fill="none"/>
<text x="122.16" y="1355.00" font-size="68" textLength="96.29" lengthAdjust="spacingAndGlyphs">100</text>
<text x="153.93" y="1494.00" font-size="68" textLength="64.22" lengthAdjust="spacingAndGlyphs">90</text>
<text x="154.58" y="1634.10" font-size="68" textLength="63.54" lengthAdjust="spacingAndGlyphs">80</text>
<text x="150.53" y="1774.30" font-size="68" textLength="67.75" lengthAdjust="spacingAndGlyphs">70</text>
<text x="151.62" y="1913.30" font-size="68" textLength="66.92" lengthAdjust="spacingAndGlyphs">60</text>
<text x="151.62" y="2053.30" font-size="68" textLength="66.83" lengthAdjust="spacingAndGlyphs">50</text>
<text x="152.51" y="2192.00" font-size="68" textLength="65.90" lengthAdjust="spacingAndGlyphs">40</text>
<text x="353.21" y="2256.60" font-size="67.6" textLength="26.13" lengthAdjust="spacingAndGlyphs">1</text>
<text x="576.36" y="2256.60" font-size="67.6" textLength="35.67" lengthAdjust="spacingAndGlyphs">2</text>
<text x="807.22" y="2256.60" font-size="67.6" textLength="29.05" lengthAdjust="spacingAndGlyphs">3</text>
<text x="1034.38" y="2256.60" font-size="67.6" textLength="31.19" lengthAdjust="spacingAndGlyphs">4</text>
<text x="1262.85" y="2256.60" font-size="67.6" textLength="33.14" lengthAdjust="spacingAndGlyphs">5</text>
<text x="389.02" y="2362.00" font-size="82" textLength="865.55" lengthAdjust="spacingAndGlyphs">Zeolites concentration (%)</text>
<text transform="translate(104.80,1808.53) rotate(-90)" x="0" y="0" font-size="102" textLength="278.07" lengthAdjust="spacingAndGlyphs">d (nm)</text>
<text x="295.31" y="2105.00" font-size="81.7" textLength="95.28" lengthAdjust="spacingAndGlyphs">(b)</text>
<path d="M366.30,1863.50 L708.67,1706.00 L1279.30,1651.40" stroke="#000" stroke-width="8.6" fill="none"/>
<path d="M366.30,1642.40 L708.67,1559.00 L1279.30,1558.90" stroke="#f00" stroke-width="8.6" fill="none"/>
<rect x="348.80" y="1846.00" width="35" height="35" rx="1.5" fill="#00f"/>
<rect x="691.17" y="1688.50" width="35" height="35" rx="1.5" fill="#00f"/>
<rect x="1261.80" y="1633.90" width="35" height="35" rx="1.5" fill="#00f"/>
<circle cx="366.30" cy="1642.40" r="19.6" fill="#00f"/>
<circle cx="708.67" cy="1559.00" r="19.6" fill="#00f"/>
<circle cx="1279.30" cy="1558.90" r="19.6" fill="#00f"/>
<rect x="893" y="1931" width="447.2" height="155.7" fill="#fff" stroke="#000" stroke-width="2.8"/>
<path d="M935.9,1979.4H1069.7" stroke="#000" stroke-width="8.5"/>
<rect x="985" y="1962" width="35" height="34.5" rx="1.5" fill="#00f"/>
<text x="1082.57" y="1999.10" font-size="59" textLength="149.64" lengthAdjust="spacingAndGlyphs">milled</text>
<path d="M935.9,2053.3H1069.7" stroke="#f00" stroke-width="8.5"/>
<circle cx="1002.8" cy="2053.3" r="19.5" fill="#00f"/>
<text x="1082.45" y="2072.50" font-size="59" textLength="239.66" lengthAdjust="spacingAndGlyphs">not milled</text>
<text x="713.02" y="2560" font-size="86">(</text>
<text x="739.91" y="2560" font-size="86" font-weight="bold">b</text>
<text x="789.15" y="2560" font-size="86">)</text>
</svg>
</body></html>
